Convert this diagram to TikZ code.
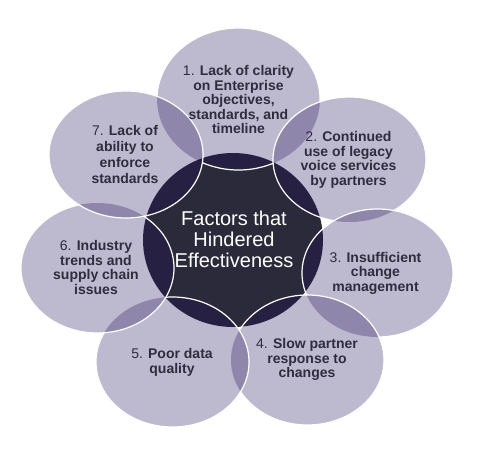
\documentclass[tikz,border=0pt]{standalone}
\usepackage{fontspec}
\setmainfont{Liberation Sans}
\usetikzlibrary{shapes.geometric}
\definecolor{petalc}{RGB}{28,14,86}
\definecolor{hubc}{RGB}{43,42,59}
\definecolor{inkc}{RGB}{46,44,62}
\tikzset{
  petal/.style={ellipse, inner sep=0pt, outer sep=0pt, fill=petalc, fill opacity=0.29},
  rim/.style={draw=white, line width=1.2pt},
  lbl/.style={text=inkc, align=center, inner sep=0pt, font=\bfseries\fontsize{14}{14.5}\selectfont},
  hublbl/.style={text=white, align=center, inner sep=0pt, font=\fontsize{20}{21}\selectfont},
}
\begin{document}
\begin{tikzpicture}[x=1pt,y=-1pt]
\useasboundingbox (0,0) rectangle (487,455);
% hub
\node[ellipse, fill=hubc, inner sep=0pt, minimum width=180pt, minimum height=174pt] (c0) at (233,240) {};
% petals (fills)
\node[petal, minimum width=163pt, minimum height=142pt] (c1) at (238.5,99) {};
\node[petal, minimum width=153pt, minimum height=125pt] (c2) at (349.5,159.5) {};
\node[petal, minimum width=151pt, minimum height=128pt] (c3) at (377.5,273) {};
\node[petal, minimum width=153pt, minimum height=130pt] (c4) at (307.5,360) {};
\node[petal, minimum width=153pt, minimum height=130pt] (c5) at (172.5,362) {};
\node[petal, minimum width=153pt, minimum height=130pt] (c6) at (97.5,268) {};
\node[petal, minimum width=154pt, minimum height=127pt] (c7) at (126,154.5) {};
% outlines, hidden where a later petal lies over them
\begin{scope}[even odd rule]
  \clip (0,0) rectangle (487,455) (c2.center) ellipse [x radius=76.5pt, y radius=62.5pt];
  \clip (0,0) rectangle (487,455) (c7.center) ellipse [x radius=77pt, y radius=63.5pt];
  \draw[rim] (c1.center) ellipse [x radius=81.5pt, y radius=71pt];
\end{scope}
\begin{scope}[even odd rule]
  \clip (0,0) rectangle (487,455) (c3.center) ellipse [x radius=75.5pt, y radius=64pt];
  \draw[rim] (c2.center) ellipse [x radius=76.5pt, y radius=62.5pt];
\end{scope}
\begin{scope}[even odd rule]
  \clip (0,0) rectangle (487,455) (c4.center) ellipse [x radius=76.5pt, y radius=65pt];
  \draw[rim] (c3.center) ellipse [x radius=75.5pt, y radius=64pt];
\end{scope}
\begin{scope}[even odd rule]
  \clip (0,0) rectangle (487,455) (c5.center) ellipse [x radius=76.5pt, y radius=65pt];
  \draw[rim] (c4.center) ellipse [x radius=76.5pt, y radius=65pt];
\end{scope}
\begin{scope}[even odd rule]
  \clip (0,0) rectangle (487,455) (c6.center) ellipse [x radius=76.5pt, y radius=65pt];
  \draw[rim] (c5.center) ellipse [x radius=76.5pt, y radius=65pt];
\end{scope}
\begin{scope}[even odd rule]
  \clip (0,0) rectangle (487,455) (c7.center) ellipse [x radius=77pt, y radius=63.5pt];
  \draw[rim] (c6.center) ellipse [x radius=76.5pt, y radius=65pt];
\end{scope}
\draw[rim] (c7.center) ellipse [x radius=77pt, y radius=63.5pt];
% labels
\node[hublbl] (t0) at (234,239) {Factors that\\Hindered\\Effectiveness};
\node[lbl] (t1) at (238.5,99.5) {{\mdseries 1.} Lack of clarity\\on Enterprise\\objectives,\\standards, and\\timeline};
\node[lbl] (t2) at (348.5,160) {{\mdseries 2.} Continued\\use of legacy\\voice services\\by partners};
\node[lbl] (t3) at (375.5,273) {{\mdseries 3.} Insufficient\\change\\management};
\node[lbl] (t4) at (307,359.5) {{\mdseries 4.} Slow partner\\response to\\changes};
\node[lbl] (t5) at (172,362.5) {{\mdseries 5.} Poor data\\quality};
\node[lbl] (t6) at (96,267.5) {{\mdseries 6.} Industry\\trends and\\supply chain\\issues};
\node[lbl, font=\bfseries\fontsize{14}{16}\selectfont] (t7) at (125,154) {{\mdseries 7.} Lack of\\ability to\\enforce\\standards};
\end{tikzpicture}
\end{document}
